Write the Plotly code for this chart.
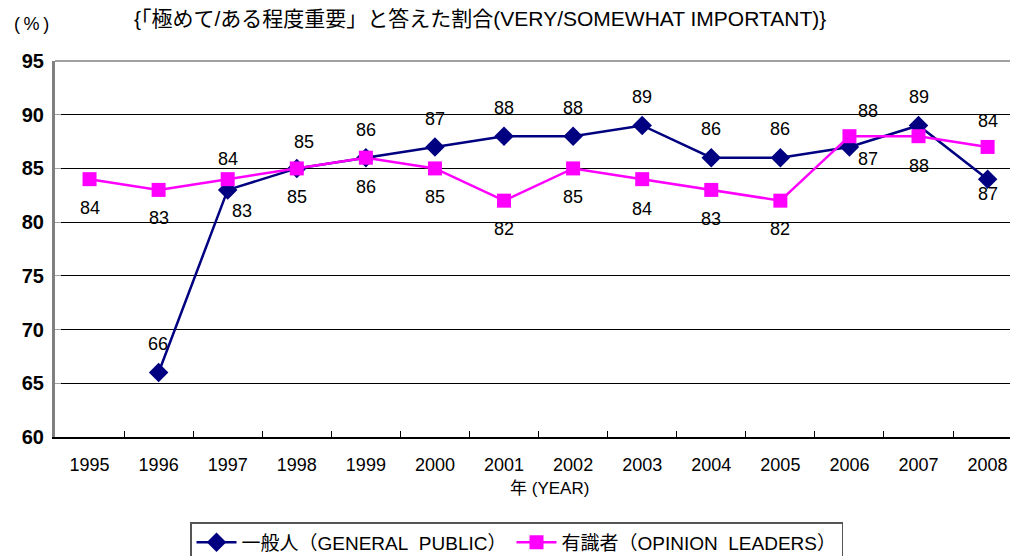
import plotly.graph_objects as go

years = ["1995", "1996", "1997", "1998", "1999", "2000", "2001",
         "2002", "2003", "2004", "2005", "2006", "2007", "2008"]
general_public = [None, 66, 83, 85, 86, 87, 88, 88, 89, 86, 86, 87, 89, 84]
opinion_leaders = [84, 83, 84, 85, 86, 85, 82, 85, 84, 83, 82, 88, 88, 87]

name_general = "一般人（GENERAL\u00a0\u00a0PUBLIC）"
name_opinion = "有識者（OPINION\u00a0\u00a0LEADERS）"
title_text = "{「極めて/ある程度重要」と答えた割合(VERY/SOMEWHAT IMPORTANT)}"
y_unit = "(\u2009%\u2009)"
x_title = "年 (YEAR)"
y_ticks = [60, 65, 70, 75, 80, 85, 90, 95]

# label placement offsets in screen pixels (dx right, dy down)
gp_label_off = [None, (-1, -29), (14, 21), (7, -26), (0, -28), (0, -28), (0, -28),
                (0, -28), (0, -28), (0, -29), (0, -29), (19, 12), (0, -28), (0, -58)]
ol_label_off = [(0, 29), (0, 28), (0, -20), (0, 29), (0, 29), (0, 29), (0, 28),
                (0, 29), (0, 30), (0, 29), (0, 28), (19, -25), (0, 30), (0, 47)]

FONT = "Arial, 'Liberation Sans', 'Noto Sans CJK JP', sans-serif"
NAVY = "#000080"
MAGENTA = "#FF00FF"

# the page body has an 8px margin: the figure is drawn offset by (8, 8)
OFF = 8
W, H = 1018 - OFF, 556 - OFF

fig = go.Figure()
fig.add_trace(go.Scatter(
    x=years, y=general_public, name=name_general, mode="lines+markers",
    line=dict(color=NAVY, width=2.5),
    marker=dict(symbol="diamond", size=15, color=NAVY),
    connectgaps=False,
))
fig.add_trace(go.Scatter(
    x=years, y=opinion_leaders, name=name_opinion, mode="lines+markers",
    line=dict(color=MAGENTA, width=2.5),
    marker=dict(symbol="square", size=14, color=MAGENTA),
))

annotations = []
for series, offs in ((general_public, gp_label_off), (opinion_leaders, ol_label_off)):
    for i, (v, off) in enumerate(zip(series, offs)):
        if v is None or off is None:
            continue
        annotations.append(dict(
            x=i, y=v, xref="x", yref="y", text=str(v), showarrow=False,
            xshift=off[0], yshift=-off[1],
            font=dict(family=FONT, size=18, color="black"),
        ))

# target plot area in window pixels: left 55, right 1018, top 61, bottom 437
PL, PR, PT, PB = 55, 1018, 61, 437

def px_x(p):
    return (p - PL) / float(PR - PL)

def px_y(p):
    return (PB - p) / float(PB - PT)

annotations.append(dict(x=px_x(480), y=px_y(18), xref="paper", yref="paper",
                        text=title_text, showarrow=False, xanchor="center", yanchor="middle",
                        font=dict(family=FONT, size=21, color="black")))
annotations.append(dict(x=px_x(31), y=px_y(24), xref="paper", yref="paper",
                        text=y_unit, showarrow=False, xanchor="center", yanchor="middle",
                        font=dict(family=FONT, size=18, color="black")))
annotations.append(dict(x=px_x(549), y=px_y(488), xref="paper", yref="paper",
                        text=x_title, showarrow=False, xanchor="center", yanchor="middle",
                        font=dict(family=FONT, size=17, color="black")))

fig.update_layout(
    width=W, height=H,
    margin=dict(l=PL - OFF, r=W - (PR - OFF), t=PT - OFF, b=H - (PB - OFF), autoexpand=False),
    paper_bgcolor="white", plot_bgcolor="white",
    font=dict(family=FONT, color="black"),
    showlegend=True,
    legend=dict(
        orientation="h", x=px_x(190), y=px_y(522), xanchor="left", yanchor="top",
        bordercolor="#555555", borderwidth=1.5, bgcolor="white",
        font=dict(family=FONT, size=19, color="black"),
        itemwidth=40, tracegroupgap=0,
    ),
    annotations=annotations,
    shapes=[dict(type="line", xref="paper", yref="paper", x0=0, x1=1, y0=1, y1=1,
                 line=dict(color="#A0A0A0", width=2))],
)

fig.update_xaxes(
    type="category", categoryorder="array", categoryarray=years,
    range=[-0.5, 13.44], automargin=False,
    showgrid=False, zeroline=False,
    showline=True, linecolor="black", linewidth=2,
    ticks="inside", tickson="boundaries", ticklen=6, tickcolor="black", tickwidth=1,
    tickfont=dict(family=FONT, size=18, color="black"),
    ticklabelstandoff=10,
)
fig.update_yaxes(
    range=[60, 95], tickvals=y_ticks, ticktext=[str(t) for t in y_ticks],
    automargin=False,
    showgrid=True, gridcolor="black", gridwidth=1, zeroline=False,
    showline=True, linecolor="#808080", linewidth=3,
    ticks="inside", ticklen=6, tickcolor="#A0A0A0", tickwidth=1,
    tickfont=dict(family=FONT, size=20, color="black", weight="bold"),
    ticklabelstandoff=4,
)

fig.write_html("out.html")
